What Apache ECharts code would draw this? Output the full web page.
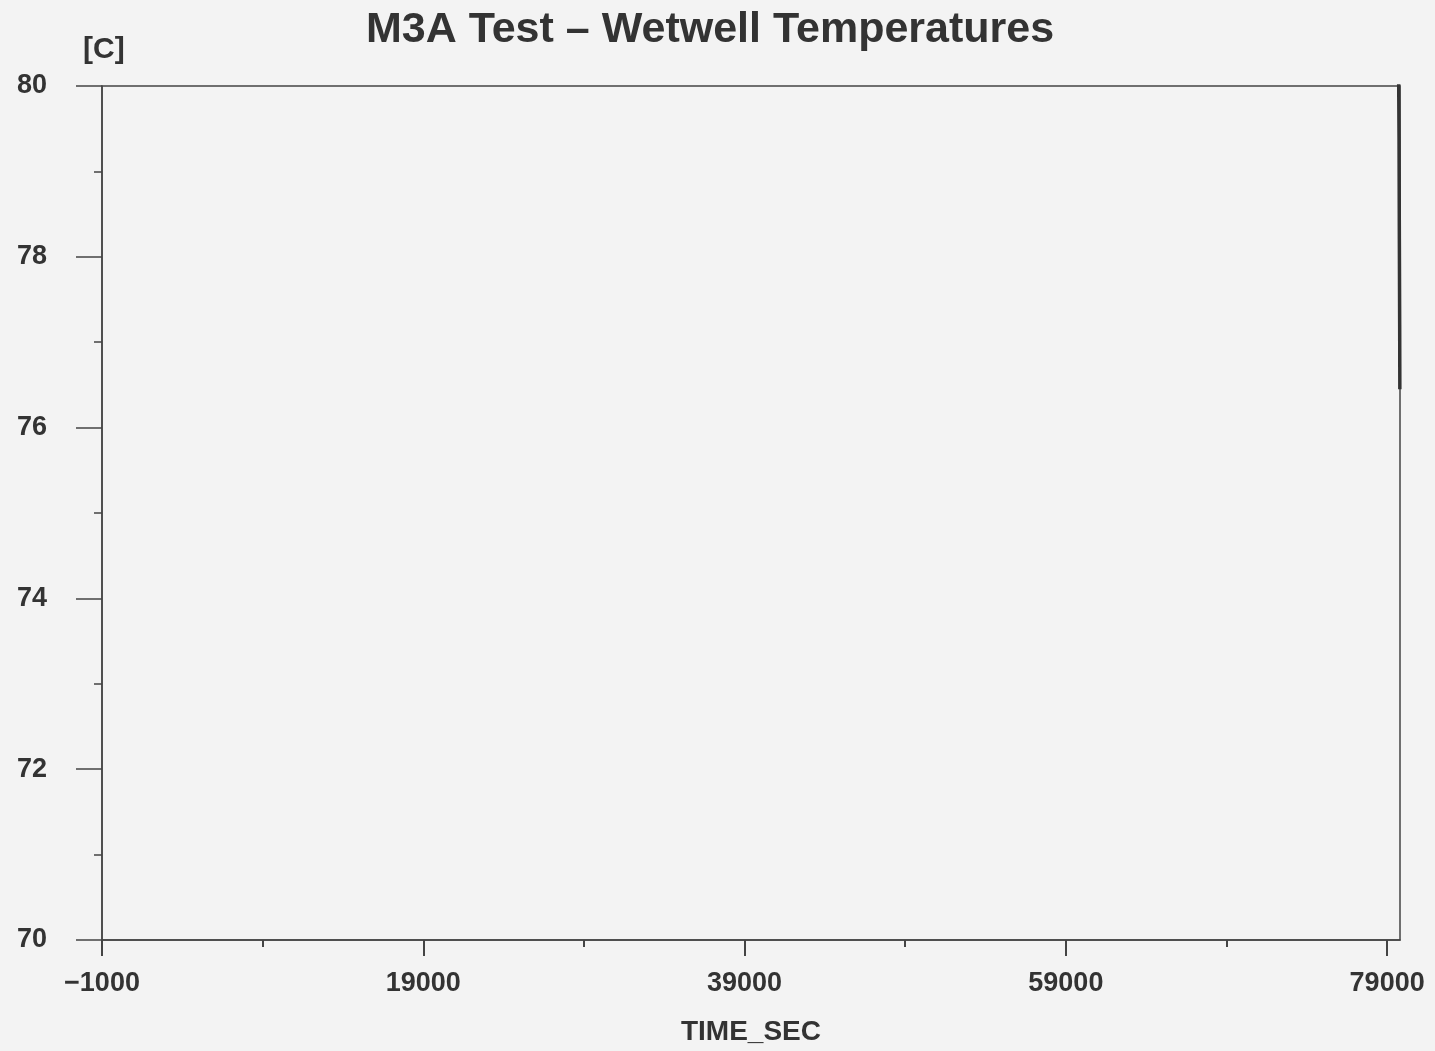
<!DOCTYPE html>
<html>
<head>
<meta charset="utf-8">
<script src="https://cdn.jsdelivr.net/npm/echarts@6/dist/echarts.min.js"></script>
<style>
  html, body { margin: 0; padding: 0; background: #f3f3f3; }
  #chart { width: 1435px; height: 1051px; }
</style>
</head>
<body>
<div id="chart"></div>
<script>
// data
var timeSec = [79700, 79740, 79760, 79780, 79790];
var wetwellTemp = [80.6, 79.4, 78.2, 77.2, 76.45];
var xMajorTicks = [-1000, 19000, 39000, 59000, 79000];
var xMinorTicks = [9000, 29000, 49000, 69000];

var chart = echarts.init(document.getElementById('chart'));

var lineData = timeSec.map(function(t, i) {
    return [t, wetwellTemp[i]];
});

var axisColor = '#444';
var textColor = '#333';
var fontFam = '"Liberation Sans", Arial, sans-serif';

var option = {
    backgroundColor: '#f3f3f3',
    animation: false,
    title: [{
        text: 'M3A Test \u2013 Wetwell Temperatures',
        left: 705,
        top: 4,
        textAlign: 'center',
        textStyle: { fontSize: 43, fontWeight: 'bold', color: textColor, fontFamily: fontFam }
    }, {
        text: '[C]',
        left: 78,
        top: 30,
        textStyle: { fontSize: 30, fontWeight: 'bold', color: textColor, fontFamily: fontFam }
    }],
    grid: {
        left: 102,
        right: 35,
        top: 86,
        bottom: 111,
        show: true,
        borderColor: axisColor,
        borderWidth: 1.5,
        backgroundColor: 'transparent'
    },
    xAxis: [{
        type: 'value',
        min: -1000,
        max: 79800,
        name: 'TIME_SEC',
        nameLocation: 'middle',
        nameGap: 78,
        nameTextStyle: { fontSize: 28, fontWeight: 'bold', color: textColor, fontFamily: fontFam },
        axisLine: { show: true, onZero: false, lineStyle: { color: axisColor, width: 1.5 } },
        axisTick: { show: true, length: 16, customValues: xMajorTicks, lineStyle: { color: axisColor, width: 2 } },
        axisLabel: {
            customValues: xMajorTicks,
            margin: 30,
            fontSize: 27,
            fontWeight: 'bold',
            color: textColor,
            fontFamily: fontFam,
            formatter: function(v) { return v < 0 ? '\u2212' + Math.abs(v) : String(v); }
        },
        splitLine: { show: false }
    }, {
        type: 'value',
        position: 'bottom',
        min: -1000,
        max: 79800,
        axisLine: { show: false, onZero: false },
        axisTick: { show: true, length: 7, customValues: xMinorTicks, lineStyle: { color: axisColor, width: 2 } },
        axisLabel: { show: false },
        splitLine: { show: false }
    }],
    yAxis: {
        type: 'value',
        min: 70,
        max: 80,
        interval: 2,
        axisLine: { show: true, onZero: false, lineStyle: { color: axisColor, width: 1.5 } },
        axisTick: { show: true, length: 26, lineStyle: { color: axisColor, width: 1.5 } },
        minorTick: { show: true, splitNumber: 2, length: 8, lineStyle: { color: axisColor, width: 1.5 } },
        axisLabel: {
            margin: 55,
            fontSize: 27,
            fontWeight: 'bold',
            color: textColor,
            fontFamily: fontFam
        },
        splitLine: { show: false }
    },
    series: [{
        type: 'line',
        data: lineData,
        showSymbol: false,
        clip: true,
        lineStyle: { color: '#333', width: 3.5 }
    }]
};

chart.setOption(option);
</script>
</body>
</html>
